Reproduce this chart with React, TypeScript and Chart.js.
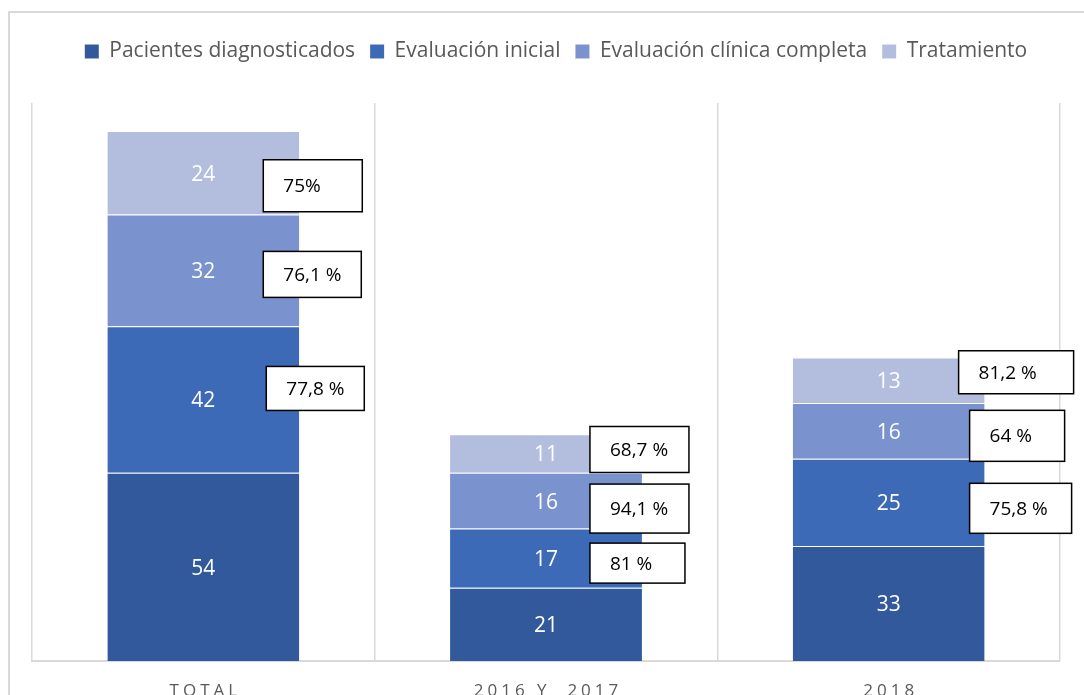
import React, { useEffect, useRef } from "react";
import { Chart, registerables } from "chart.js";

Chart.register(...registerables);

const categories = ["TOTAL", "2016 Y  2017", "2018"];
const seriesNames = [
  "Pacientes diagnosticados",
  "Evaluación inicial",
  "Evaluación clínica completa",
  "Tratamiento",
];
const pacientes = [54, 21, 33];
const evaluacionInicial = [42, 17, 25];
const evaluacionClinica = [32, 16, 16];
const tratamiento = [24, 11, 13];

const pctInicial = ["77,8 %", "81 %", "75,8 %"];
const pctClinica = ["76,1 %", "94,1 %", "64 %"];
const pctTratamiento = ["75%", "68,7 %", "81,2 %"];

const colors = ["#31599B", "#3D6AB7", "#7A92CE", "#B3BEDF"];

// Callout box placement relative to its bar segment: [dx from bar right, dy from segment centre, width, height]
const boxPlacement: Record<number, number[][]> = {
  1: [[-33, -11, 98, 44], [-52, 5, 95, 40], [-15, 6, 102, 50]],
  2: [[-36, 4, 98, 46], [-52, 8, 99, 49], [-15, 5, 95, 51]],
  3: [[-36, 13, 99, 52], [-52, -4, 99, 46], [-26, -8, 115, 43]],
};
const boxTexts: Record<number, string[]> = {
  1: pctInicial,
  2: pctClinica,
  3: pctTratamiento,
};

const FONT = "'Open Sans', 'Noto Sans', sans-serif";

export default function App() {
  const ref = useRef<HTMLCanvasElement | null>(null);

  useEffect(() => {
    if (!ref.current) return;

    const frame = {
      id: "frame",
      beforeDraw(chart: any) {
        const ctx = chart.ctx;
        ctx.save();
        ctx.fillStyle = "#D9D9D9";
        ctx.fillRect(8, 11, 2, 684);
        ctx.fillRect(8, 11, 1076, 2);
        ctx.restore();
      },
    };

    const legendSpace = {
      id: "legendSpace",
      beforeInit(chart: any) {
        const legend = chart.legend;
        if (!legend) return;
        const orig = legend.fit;
        legend.fit = function () {
          orig.call(this);
          this.height = 77;
        };
      },
      afterLayout(chart: any) {
        const legend = chart.legend;
        if (!legend) return;
        legend.left += 10;
        legend.right += 10;
      },
    };

    const labels = {
      id: "labelsAndBoxes",
      afterDatasetsDraw(chart: any) {
        const ctx = chart.ctx;
        ctx.save();
        chart.data.datasets.forEach((ds: any, di: number) => {
          const meta = chart.getDatasetMeta(di);
          meta.data.forEach((el: any, i: number) => {
            const cy = (el.y + el.base) / 2;
            ctx.fillStyle = "#FFFFFF";
            ctx.font = `21px ${FONT}`;
            ctx.textAlign = "center";
            ctx.textBaseline = "middle";
            ctx.fillText(String(ds.data[i]), el.x, cy + 2);
          });
        });
        [1, 2, 3].forEach((di) => {
          const meta = chart.getDatasetMeta(di);
          meta.data.forEach((el: any, i: number) => {
            const [dx, dy, w, h] = boxPlacement[di][i];
            const right = el.x + el.width / 2;
            const cy = (el.y + el.base) / 2 + dy;
            const left = right + dx;
            const top = cy - h / 2;
            ctx.fillStyle = "#FFFFFF";
            ctx.fillRect(left, top, w, h);
            ctx.strokeStyle = "#000000";
            ctx.lineWidth = 1.5;
            ctx.strokeRect(left, top, w, h);
            ctx.fillStyle = "#000000";
            ctx.font = `19px ${FONT}`;
            ctx.textAlign = "left";
            ctx.textBaseline = "middle";
            ctx.fillText(boxTexts[di][i], left + 20, cy + 1);
          });
        });
        ctx.restore();
      },
      afterDraw(chart: any) {
        const ctx = chart.ctx;
        const xs = chart.scales.x;
        ctx.save();
        ctx.fillStyle = "#595959";
        ctx.font = `17px ${FONT}`;
        (ctx as any).letterSpacing = "4px";
        ctx.textAlign = "center";
        ctx.textBaseline = "alphabetic";
        categories.forEach((c, i) => {
          ctx.fillText(c, xs.getPixelForValue(i) + 2, 696);
        });
        ctx.restore();
      },
    };

    const data = [pacientes, evaluacionInicial, evaluacionClinica, tratamiento];

    const chart = new Chart(ref.current, {
      type: "bar",
      data: {
        labels: categories,
        datasets: seriesNames.map((name, i) => ({
          label: name,
          data: data[i],
          backgroundColor: colors[i],
          borderColor: "rgba(255,255,255,0.13)",
          borderWidth: { top: 1, left: 0, right: 0, bottom: 0 },
          borderSkipped: false,
          categoryPercentage: 1,
          barPercentage: 0.56,
        })),
      },
      options: {
        responsive: false,
        animation: false,
        devicePixelRatio: 1,
        layout: { padding: { top: 26, left: 32, right: 24, bottom: 34 } },
        plugins: {
          legend: {
            position: "top",
            labels: {
              boxWidth: 14,
              boxHeight: 14,
              padding: 15,
              color: "#595959",
              font: { family: FONT, size: 21 },
            },
          },
          tooltip: { enabled: false },
        },
        scales: {
          x: {
            stacked: true,
            grid: {
              display: true,
              offset: true,
              color: "#D9D9D9",
              lineWidth: 1.5,
              drawTicks: false,
            },
            border: { display: true, color: "#D9D9D9", width: 2 },
            ticks: { display: false },
          },
          y: {
            stacked: true,
            display: false,
            min: 0,
            max: 160,
          },
        },
      },
      plugins: [frame, legendSpace, labels],
    });

    return () => chart.destroy();
  }, []);

  return (
    <div style={{ position: "absolute", left: 0, top: 0, width: 1084, height: 695, background: "#fff" }}>
      <canvas ref={ref} width={1084} height={695} style={{ display: "block" }} />
    </div>
  );
}
